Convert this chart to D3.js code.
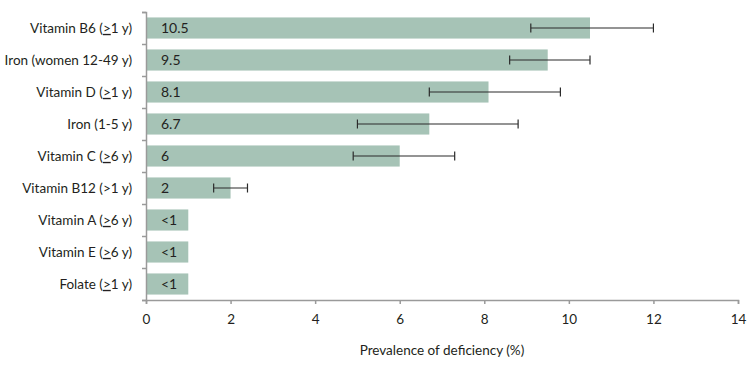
<!DOCTYPE html>
<html>
<head>
<meta charset="utf-8">
<script src="https://cdn.jsdelivr.net/npm/d3@7"></script>
<style>
  body { margin: 0; background: #fff; }
  svg text { font-family: Lato, "Open Sans", sans-serif; fill: #231f20; }
</style>
</head>
<body>
<div id="chart-area"></div>
<script>
// data
const categories = [
  "Vitamin B6 (≥1 y)",
  "Iron (women 12-49 y)",
  "Vitamin D (≥1 y)",
  "Iron (1-5 y)",
  "Vitamin C (≥6 y)",
  "Vitamin B12 (>1 y)",
  "Vitamin A (≥6 y)",
  "Vitamin E (≥6 y)",
  "Folate (≥1 y)"
];
const values = [10.5, 9.5, 8.1, 6.7, 6, 2, 1, 1, 1];
const valueLabels = ["10.5", "9.5", "8.1", "6.7", "6", "2", "<1", "<1", "<1"];
const errLow = [9.1, 8.6, 6.7, 5.0, 4.9, 1.6, null, null, null];
const errHigh = [12.0, 10.5, 9.8, 8.8, 7.3, 2.4, null, null, null];
const xTicks = [0, 2, 4, 6, 8, 10, 12, 14];
const xTitle = "Prevalence of deficiency (%)";

const svgWidth = 752, svgHeight = 367;
const margin = { top: 12, right: 14, bottom: 67, left: 146 };
const width = svgWidth - margin.left - margin.right;
const height = svgHeight - margin.top - margin.bottom;

const rows = categories.map((c, i) => ({
  cat: c, value: values[i], label: valueLabels[i], lo: errLow[i], hi: errHigh[i]
}));

const svg = d3.select("#chart-area")
  .append("svg")
  .attr("width", svgWidth)
  .attr("height", svgHeight)
  .append("g")
  .attr("transform", `translate(${margin.left}, ${margin.top})`);

const xScale = d3.scaleLinear().domain([0, 14]).range([0, width]);
const yScale = d3.scaleBand()
  .domain(categories)
  .range([0, height])
  .paddingInner(0.34)
  .paddingOuter(0.17);
// boundaries between rows, for the tick marks on the left axis
const yEdge = d3.scaleLinear().domain([0, categories.length]).range([0, height]);

// bars
svg.selectAll(".bar")
  .data(rows)
  .join("rect")
  .attr("class", "bar")
  .attr("x", xScale(0))
  .attr("y", d => yScale(d.cat))
  .attr("width", d => xScale(d.value) - xScale(0))
  .attr("height", yScale.bandwidth())
  .attr("fill", "#a6c3b6");

// value labels inside bars
svg.selectAll(".val")
  .data(rows)
  .join("text")
  .attr("class", "val")
  .attr("x", xScale(0) + 15)
  .attr("y", d => yScale(d.cat) + yScale.bandwidth() / 2)
  .attr("dy", "0.36em")
  .style("font-size", "14px")
  .text(d => d.label);

// error bars
const errRows = rows.filter(d => d.lo != null);
const capH = 9;
const eb = svg.selectAll(".err")
  .data(errRows)
  .join("g")
  .attr("class", "err")
  .attr("stroke", "#2b2b2b")
  .attr("stroke-width", 1.2);
eb.append("line")
  .attr("x1", d => xScale(d.lo)).attr("x2", d => xScale(d.hi))
  .attr("y1", d => yScale(d.cat) + yScale.bandwidth() / 2)
  .attr("y2", d => yScale(d.cat) + yScale.bandwidth() / 2);
eb.append("line")
  .attr("x1", d => xScale(d.lo)).attr("x2", d => xScale(d.lo))
  .attr("y1", d => yScale(d.cat) + yScale.bandwidth() / 2 - capH / 2)
  .attr("y2", d => yScale(d.cat) + yScale.bandwidth() / 2 + capH / 2);
eb.append("line")
  .attr("x1", d => xScale(d.hi)).attr("x2", d => xScale(d.hi))
  .attr("y1", d => yScale(d.cat) + yScale.bandwidth() / 2 - capH / 2)
  .attr("y2", d => yScale(d.cat) + yScale.bandwidth() / 2 + capH / 2);

// x axis
const xAxis = svg.append("g")
  .attr("class", "x-axis")
  .attr("transform", `translate(0, ${height})`)
  .call(d3.axisBottom(xScale).tickValues(xTicks).tickSize(4).tickPadding(10).tickFormat(d3.format("d")));
xAxis.select(".domain").attr("stroke", "#9a9a9a").attr("stroke-width", 1.5);
xAxis.selectAll(".tick line").attr("stroke", "#9a9a9a").attr("stroke-width", 1.5);
xAxis.selectAll("text").style("font-size", "13.5px").attr("fill", "#231f20");

// y axis: line with ticks at row edges
const yAxis = svg.append("g")
  .attr("class", "y-axis")
  .call(d3.axisLeft(yEdge).tickValues(d3.range(categories.length + 1)).tickSize(4).tickFormat(""));
yAxis.select(".domain").attr("stroke", "#9a9a9a").attr("stroke-width", 1.5);
yAxis.selectAll(".tick line").attr("stroke", "#9a9a9a").attr("stroke-width", 1.5);

// category labels; ≥ drawn as an underlined > like the original
const catText = svg.selectAll(".cat")
  .data(rows)
  .join("text")
  .attr("class", "cat")
  .attr("x", -14)
  .attr("y", d => yScale(d.cat) + yScale.bandwidth() / 2)
  .attr("dy", "0.36em")
  .attr("text-anchor", "end")
  .style("font-size", "13.5px");
catText.each(function(d) {
  const parts = d.cat.split("≥");
  const t = d3.select(this);
  parts.forEach((p, i) => {
    if (i > 0) t.append("tspan").style("text-decoration", "underline").text(">");
    t.append("tspan").text(p);
  });
});

// x axis title
svg.append("text")
  .attr("x", xScale(7))
  .attr("y", height + 55)
  .attr("text-anchor", "middle")
  .style("font-size", "13.5px")
  .text(xTitle);
</script>
</body>
</html>
